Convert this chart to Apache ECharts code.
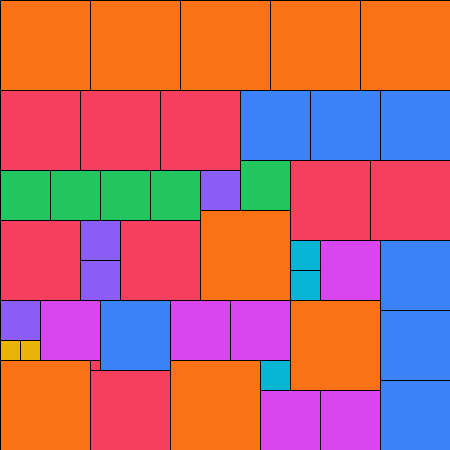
<!DOCTYPE html>
<html>
<head>
<meta charset="utf-8">
<style>html,body{margin:0;padding:0;background:#fff}#c{width:450px;height:450px}</style>
<script src="https://cdn.jsdelivr.net/npm/echarts@6/dist/echarts.min.js"></script>
</head>
<body>
<div id="c"></div>
<script>
// Square packing data: left, top, side length (in layout units) and group
const groups = ['orange','red','blue','green','purple','magenta','cyan','yellow'];
const groupColors = ['#f97316','#f43f5e','#3b82f6','#22c55e','#8b5cf6','#d946ef','#06b6d4','#eab308'];
const xs    = [0,90,180,270,360, 0,80,160, 240,310,380, 0,50,100,150, 200, 240, 290,370, 0, 80,80, 120, 200, 290,290, 320, 380, 0, 0,20, 40, 100, 170,230, 290, 380, 0, 90, 90, 170, 260, 260,320, 380];
const ys    = [0,0,0,0,0, 90,90,90, 90,90,90, 170,170,170,170, 170, 160, 160,160, 220, 220,260, 220, 210, 240,270, 240, 240, 300, 340,340, 300, 300, 300,300, 300, 310, 360, 360, 370, 360, 360, 390,390, 380];
const sizes = [90,90,90,90,90, 80,80,80, 70,70,70, 50,50,50,50, 40, 50, 80,80, 80, 40,40, 80, 90, 30,30, 60, 70, 40, 20,20, 60, 70, 60,60, 90, 70, 90, 10, 80, 90, 30, 60,60, 70];
const kinds = ['orange','orange','orange','orange','orange','red','red','red','blue','blue','blue','green','green','green','green','purple','green','red','red','red','purple','purple','red','orange','cyan','cyan','magenta','blue','purple','yellow','yellow','magenta','blue','magenta','magenta','orange','blue','orange','red','red','orange','cyan','magenta','magenta','blue'];

const data = xs.map((x, i) => [x, ys[i], sizes[i], groups.indexOf(kinds[i])]);

const chart = echarts.init(document.getElementById('c'), null, {renderer: 'canvas'});
chart.setOption({
  animation: false,
  grid: {left: 0, right: 0, top: 0, bottom: 0},
  xAxis: {type: 'value', min: 0, max: 450, show: false},
  yAxis: {type: 'value', min: 0, max: 450, inverse: true, show: false},
  series: [{
    type: 'custom',
    data: data,
    renderItem: function (params, api) {
      const p = api.coord([api.value(0), api.value(1)]);
      const s = api.size([api.value(2), api.value(2)]);
      return {
        type: 'rect',
        shape: {x: p[0] + 0.5, y: p[1] + 0.5, width: s[0], height: s[1]},
        style: {fill: groupColors[api.value(3)], stroke: '#000', lineWidth: 1}
      };
    }
  }]
});
</script>
</body>
</html>
